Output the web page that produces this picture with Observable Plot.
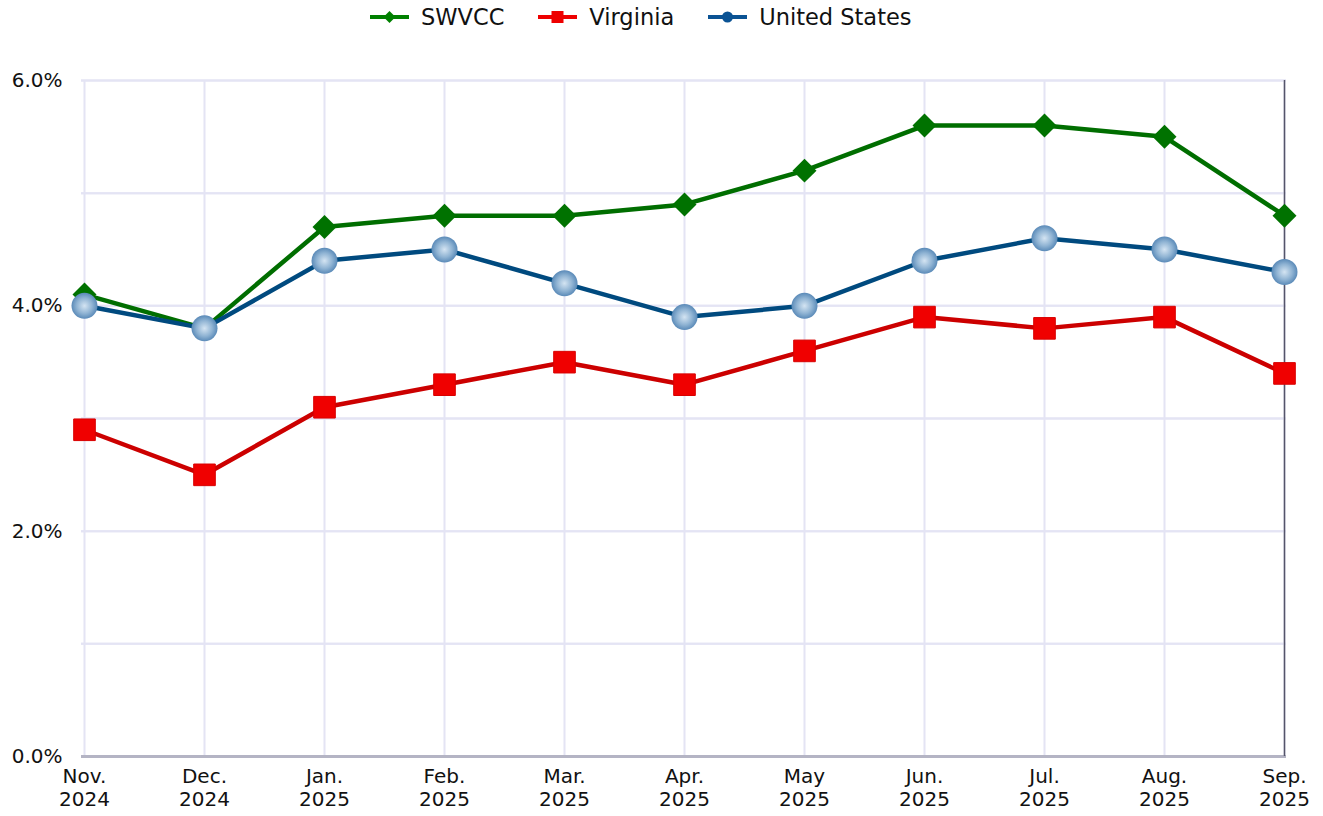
<!DOCTYPE html>
<html>
<head>
<meta charset="utf-8">
<script src="https://cdn.jsdelivr.net/npm/d3@7"></script>
<script src="https://cdn.jsdelivr.net/npm/@observablehq/plot@0.6"></script>
<style>
  body { margin: 0; background: #fff; font-family: "DejaVu Sans", sans-serif; }
  #legend { height: 34px; display: flex; justify-content: flex-start; align-items: center; gap: 34px; font-size: 22.5px; color: #111; padding-left: 370px; }
  .item { display: flex; align-items: center; gap: 12px; }
  svg { display: block; }
</style>
</head>
<body>
<div id="legend"></div>
<div id="chart"></div>
<script>
const months = ["Nov.\n2024","Dec.\n2024","Jan.\n2025","Feb.\n2025","Mar.\n2025","Apr.\n2025","May\n2025","Jun.\n2025","Jul.\n2025","Aug.\n2025","Sep.\n2025"];
const swvcc = [4.1, 3.8, 4.7, 4.8, 4.8, 4.9, 5.2, 5.6, 5.6, 5.5, 4.8];
const virginia = [2.9, 2.5, 3.1, 3.3, 3.5, 3.3, 3.6, 3.9, 3.8, 3.9, 3.4];
const unitedStates = [4.0, 3.8, 4.4, 4.5, 4.2, 3.9, 4.0, 4.4, 4.6, 4.5, 4.3];
const seriesNames = ["SWVCC", "Virginia", "United States"];
const yTicks = [0, 1, 2, 3, 4, 5, 6];
const yLabelTicks = [0, 2, 4, 6];

const lineColors = {"SWVCC": "#006e00", "Virginia": "#cc0000", "United States": "#004a7f"};

const toRows = (vals, name) => vals.map((v, i) => ({month: months[i], value: v, series: name}));
const sw = toRows(swvcc, "SWVCC");
const va = toRows(virginia, "Virginia");
const us = toRows(unitedStates, "United States");

// legend
const legend = document.getElementById("legend");
const legendMarkers = {
  "SWVCC": `<svg width="39" height="14"><line x1="0" y1="7" x2="39" y2="7" stroke="#008000" stroke-width="4"/><path d="M19.5,1 L25.5,7 L19.5,13 L13.5,7Z" fill="#008000"/></svg>`,
  "Virginia": `<svg width="39" height="14"><line x1="0" y1="7" x2="39" y2="7" stroke="#ee0000" stroke-width="4"/><rect x="13.5" y="1" width="12" height="12" fill="#ee0000"/></svg>`,
  "United States": `<svg width="39" height="14"><line x1="0" y1="7" x2="39" y2="7" stroke="#0b5394" stroke-width="4"/><circle cx="19.5" cy="7" r="5.5" fill="#0b5394"/></svg>`
};
for (const n of seriesNames) {
  const d = document.createElement("div");
  d.className = "item";
  d.innerHTML = legendMarkers[n] + `<span>${n}</span>`;
  legend.appendChild(d);
}

const plot = Plot.plot({
  width: 1323,
  height: 782,
  marginTop: 46,
  marginBottom: 60,
  marginLeft: 81,
  marginRight: 37,
  style: {fontFamily: "DejaVu Sans, sans-serif", fontSize: "19px", color: "#111", background: "#fff"},
  x: {type: "point", domain: months, label: null, padding: 0},
  y: {domain: [0, 6], label: null},
  marks: [
    Plot.gridY(yTicks, {stroke: "#e4e4f4", strokeOpacity: 1, strokeWidth: 2}),
    Plot.gridX(months, {stroke: "#e4e4f4", strokeOpacity: 1, strokeWidth: 2}),
    Plot.tickY(yTicks, {y: d => d, x1: 68, x2: 81, stroke: "#e4e4f4", strokeWidth: 2}),
    Plot.axisY(yLabelTicks, {tickSize: 0, tickPadding: 19, tickFormat: d => d.toFixed(1) + "%", fontSize: 20}),
    Plot.axisX(months, {tickSize: 0, tickPadding: 10, fontSize: 20, lineHeight: 1.15}),
    Plot.ruleY([0], {stroke: "#b4b4c4", strokeWidth: 3}),
    Plot.ruleX([months[months.length - 1]], {stroke: "#55556a", strokeWidth: 1.5}),
    Plot.line(sw, {x: "month", y: "value", stroke: lineColors["SWVCC"], strokeWidth: 4.5}),
    Plot.dot(sw, {x: "month", y: "value", symbol: "diamond2", r: 10.8, fill: "#007200", stroke: "none"}),
    Plot.line(va, {x: "month", y: "value", stroke: lineColors["Virginia"], strokeWidth: 4.5}),
    Plot.dot(va, {x: "month", y: "value", symbol: "square", r: 12.2, fill: "#f00000", stroke: "#d80000", strokeWidth: 1}),
    Plot.line(us, {x: "month", y: "value", stroke: lineColors["United States"], strokeWidth: 4.5}),
    Plot.dot(us, {x: "month", y: "value", r: 13, fill: "url(#usGrad)", stroke: "none"})
  ]
});

const defs = d3.select(plot).insert("defs", ":first-child");
const g = defs.append("radialGradient").attr("id", "usGrad").attr("cx", "0.5").attr("cy", "0.5").attr("r", "0.5").attr("fx", "0.5").attr("fy", "0.5");
g.append("stop").attr("offset", "0%").attr("stop-color", "#d4e4f2");
g.append("stop").attr("offset", "60%").attr("stop-color", "#8fb3d3");
g.append("stop").attr("offset", "100%").attr("stop-color", "#5a8ab8");

document.getElementById("chart").appendChild(plot);
</script>
</body>
</html>
